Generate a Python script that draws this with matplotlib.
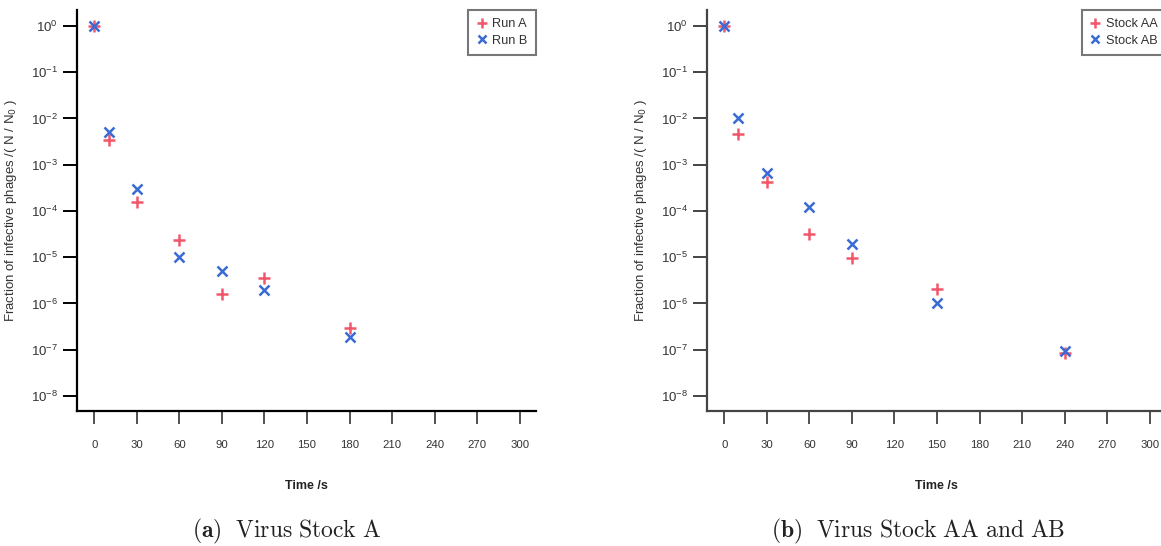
import numpy as np
import matplotlib
matplotlib.use("Agg")
import matplotlib.pyplot as plt

plt.rcParams['font.family'] = ['Liberation Sans', 'DejaVu Sans']

# panel (a)
t_a = [0, 10, 30, 60, 90, 120, 180]
run_a = [1.0, 3.4e-3, 1.55e-4, 2.36e-5, 1.6e-6, 3.5e-6, 3.0e-7]
run_b = [1.0, 5.1e-3, 2.95e-4, 1.03e-5, 5.1e-6, 2.0e-6, 1.85e-7]

# panel (b)
t_b = [0, 10, 30, 60, 90, 150, 240]
stock_aa = [1.0, 4.7e-3, 4.2e-4, 3.25e-5, 9.5e-6, 2.1e-6, 8.6e-8]
stock_ab = [1.0, 1.0e-2, 6.7e-4, 1.24e-4, 1.9e-5, 1.03e-6, 9.5e-8]

xticks = list(range(0, 301, 30))
yticks = [10.0**-k for k in range(0, 9)]

red = '#f2566a'
blue = '#3a6ad4'

fig = plt.figure(figsize=(11.61, 5.46), dpi=100)
ax1 = fig.add_axes([0.0666, 0.2478, 0.3951, 0.7339])
ax2 = fig.add_axes([0.6092, 0.2478, 0.3951, 0.7339])


def style(ax, spine_col):
    ax.set_yscale('log')
    ax.set_xlim(-12, 311.5)
    ax.set_ylim(10**-8.32, 10**0.346)
    ax.set_xticks(xticks)
    ax.set_yticks(yticks)
    ax.minorticks_off()
    for s in ['top', 'right']:
        ax.spines[s].set_visible(False)
    for s in ['left', 'bottom']:
        ax.spines[s].set_linewidth(1.6)
        ax.spines[s].set_color(spine_col)
    ax.tick_params(axis='y', direction='out', length=10, width=1.4,
                   color=spine_col, labelsize=9.5, pad=4, labelcolor='#333333')
    ax.tick_params(axis='x', direction='out', length=9, width=1.2,
                   color='#333333', labelsize=8.2, pad=12, labelcolor='#333333')
    ax.set_xlabel('Time /s', fontsize=9, fontweight='bold', color='#222222')
    ax.xaxis.set_label_coords(0.5, -0.173)
    ax.set_ylabel(r'Fraction of infective phages /( N / N$_0$ )', fontsize=9.5, color='#333333')
    ax.yaxis.set_label_coords(-0.128, 0.5)


def legend(ax, labels):
    lg = ax.legend(labels, loc='upper right', bbox_to_anchor=(1, 1), borderaxespad=0,
                   fontsize=9.2, fancybox=False, handlelength=0.8, handletextpad=0.45,
                   labelspacing=0.35, borderpad=0.65, markerscale=0.8)
    lg.get_frame().set_edgecolor('#555555')
    lg.get_frame().set_linewidth(1.5)
    for txt in lg.get_texts():
        txt.set_color('#333333')


ax1.plot(t_a, run_a, linestyle='none', marker='+', ms=9, mew=1.8, color=red)
ax1.plot(t_a, run_b, linestyle='none', marker='x', ms=7, mew=1.8, color=blue)
style(ax1, 'black')
legend(ax1, ['Run A', 'Run B'])

ax2.plot(t_b, stock_aa, linestyle='none', marker='+', ms=9, mew=1.8, color=red)
ax2.plot(t_b, stock_ab, linestyle='none', marker='x', ms=7, mew=1.8, color=blue)
style(ax2, '#444444')
legend(ax2, ['Stock AA', 'Stock AB'])

fig.text(0.247, 0.0262, r'$\mathbf{(a)}\ \ \mathrm{Virus\ Stock\ A}$',
         math_fontfamily='cm', fontsize=17, ha='center', va='center', color='#222222')
fig.text(0.791, 0.0262, r'$\mathbf{(b)}\ \ \mathrm{Virus\ Stock\ AA\ and\ AB}$',
         math_fontfamily='cm', fontsize=17, ha='center', va='center', color='#222222')

fig.savefig('out.png', dpi=100)
